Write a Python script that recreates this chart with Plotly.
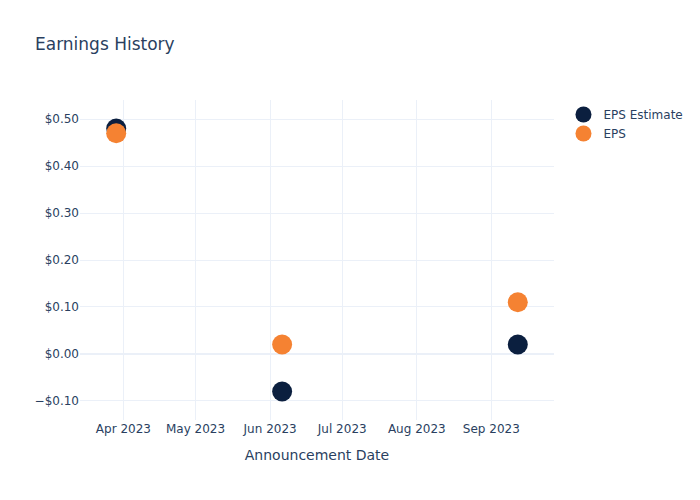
import plotly.graph_objects as go

dates = ["2023-03-29", "2023-06-06", "2023-09-12"]
eps_estimate = [0.48, -0.08, 0.02]
eps_actual = [0.47, 0.02, 0.11]

fig = go.Figure()
fig.add_trace(go.Scatter(x=dates, y=eps_estimate, mode="markers", name="EPS Estimate",
                         marker=dict(color="#0b1f3f", size=20)))
fig.add_trace(go.Scatter(x=dates, y=eps_actual, mode="markers", name="EPS",
                         marker=dict(color="#f58232", size=20)))
fig.update_layout(
    template="plotly_white",
    width=700, height=500,
    font=dict(family="DejaVu Sans"),
    title=dict(text="Earnings History"),
    xaxis=dict(title="Announcement Date"),
    yaxis=dict(tickformat="$.2f"),
)
fig.write_html("out.html")
